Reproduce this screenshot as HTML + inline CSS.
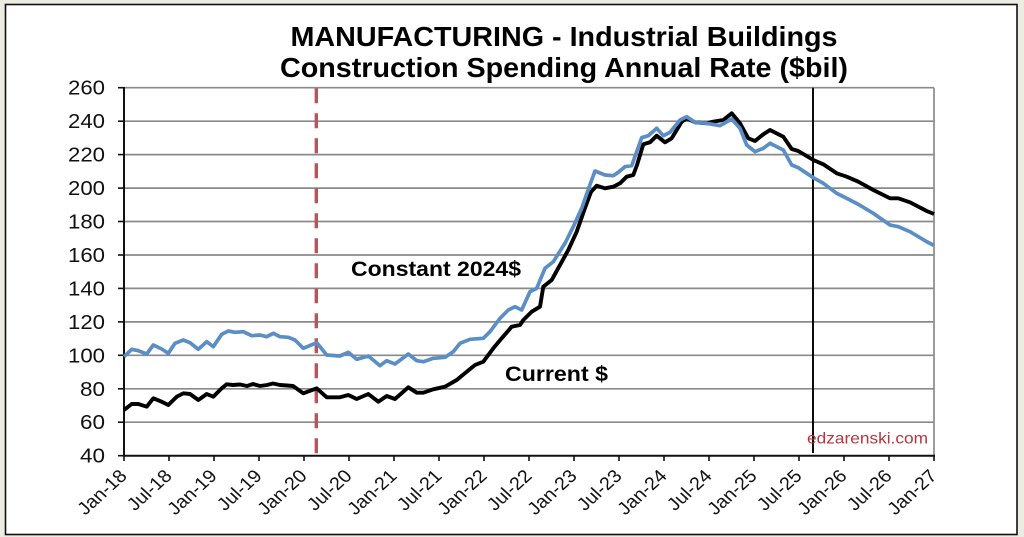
<!DOCTYPE html>
<html><head><meta charset="utf-8"><style>
html,body{margin:0;padding:0;background:#ededE3;}
svg{display:block;}
</style></head><body>
<svg width="1024" height="537" viewBox="0 0 1024 537" xmlns="http://www.w3.org/2000/svg">
<rect x="0" y="0" width="1024" height="537" fill="#ecece2"/>
<rect x="5.5" y="4.5" width="1011.5" height="530" fill="#ffffff" stroke="#111" stroke-width="1.6"/>
<g font-family="Liberation Sans, Arial, sans-serif" font-weight="bold" font-size="28" fill="#000" text-anchor="middle">
<text x="564" y="46" textLength="547" lengthAdjust="spacingAndGlyphs">MANUFACTURING - Industrial Buildings</text>
<text x="564" y="77" textLength="568" lengthAdjust="spacingAndGlyphs">Construction Spending Annual Rate ($bil)</text>
</g>
<!-- gridlines -->
<g stroke="#8a8a8a" stroke-width="1.7">
<line x1="124" y1="87.7" x2="934" y2="87.7"/>
<line x1="124" y1="121.2" x2="934" y2="121.2"/>
<line x1="124" y1="154.6" x2="934" y2="154.6"/>
<line x1="124" y1="188.1" x2="934" y2="188.1"/>
<line x1="124" y1="221.5" x2="934" y2="221.5"/>
<line x1="124" y1="255" x2="934" y2="255"/>
<line x1="124" y1="288.4" x2="934" y2="288.4"/>
<line x1="124" y1="321.9" x2="934" y2="321.9"/>
<line x1="124" y1="355.3" x2="934" y2="355.3"/>
<line x1="124" y1="388.8" x2="934" y2="388.8"/>
<line x1="124" y1="422.2" x2="934" y2="422.2"/>
<line x1="934" y1="87.7" x2="934" y2="455.7"/>
</g>
<!-- y ticks -->
<g stroke="#111" stroke-width="1.6">
<line x1="118" y1="87.7" x2="124" y2="87.7"/>
<line x1="118" y1="121.2" x2="124" y2="121.2"/>
<line x1="118" y1="154.6" x2="124" y2="154.6"/>
<line x1="118" y1="188.1" x2="124" y2="188.1"/>
<line x1="118" y1="221.5" x2="124" y2="221.5"/>
<line x1="118" y1="255" x2="124" y2="255"/>
<line x1="118" y1="288.4" x2="124" y2="288.4"/>
<line x1="118" y1="321.9" x2="124" y2="321.9"/>
<line x1="118" y1="355.3" x2="124" y2="355.3"/>
<line x1="118" y1="388.8" x2="124" y2="388.8"/>
<line x1="118" y1="422.2" x2="124" y2="422.2"/>
<line x1="118" y1="455.7" x2="124" y2="455.7"/>
</g>
<!-- x ticks -->
<g stroke="#111" stroke-width="1.6">
<line x1="124" y1="455.7" x2="124" y2="461"/>
<line x1="169" y1="455.7" x2="169" y2="461"/>
<line x1="214" y1="455.7" x2="214" y2="461"/>
<line x1="259" y1="455.7" x2="259" y2="461"/>
<line x1="304" y1="455.7" x2="304" y2="461"/>
<line x1="349" y1="455.7" x2="349" y2="461"/>
<line x1="394" y1="455.7" x2="394" y2="461"/>
<line x1="439" y1="455.7" x2="439" y2="461"/>
<line x1="484" y1="455.7" x2="484" y2="461"/>
<line x1="529" y1="455.7" x2="529" y2="461"/>
<line x1="574" y1="455.7" x2="574" y2="461"/>
<line x1="619" y1="455.7" x2="619" y2="461"/>
<line x1="664" y1="455.7" x2="664" y2="461"/>
<line x1="709" y1="455.7" x2="709" y2="461"/>
<line x1="754" y1="455.7" x2="754" y2="461"/>
<line x1="799" y1="455.7" x2="799" y2="461"/>
<line x1="844" y1="455.7" x2="844" y2="461"/>
<line x1="889" y1="455.7" x2="889" y2="461"/>
<line x1="934" y1="455.7" x2="934" y2="461"/>
</g>
<!-- axes -->
<line x1="124" y1="87" x2="124" y2="456.5" stroke="#111" stroke-width="2"/>
<line x1="123" y1="455.7" x2="935" y2="455.7" stroke="#111" stroke-width="2"/>
<!-- y labels -->
<g font-family="Liberation Sans, Arial, sans-serif" font-size="20" fill="#111" text-anchor="end">
<text x="105" y="94.7" textLength="37" lengthAdjust="spacingAndGlyphs">260</text>
<text x="105" y="128.2" textLength="37" lengthAdjust="spacingAndGlyphs">240</text>
<text x="105" y="161.6" textLength="37" lengthAdjust="spacingAndGlyphs">220</text>
<text x="105" y="195.1" textLength="37" lengthAdjust="spacingAndGlyphs">200</text>
<text x="105" y="228.5" textLength="37" lengthAdjust="spacingAndGlyphs">180</text>
<text x="105" y="262" textLength="37" lengthAdjust="spacingAndGlyphs">160</text>
<text x="105" y="295.4" textLength="37" lengthAdjust="spacingAndGlyphs">140</text>
<text x="105" y="328.9" textLength="37" lengthAdjust="spacingAndGlyphs">120</text>
<text x="105" y="362.3" textLength="37" lengthAdjust="spacingAndGlyphs">100</text>
<text x="105" y="395.8" textLength="25" lengthAdjust="spacingAndGlyphs">80</text>
<text x="105" y="429.2" textLength="25" lengthAdjust="spacingAndGlyphs">60</text>
<text x="105" y="462.7" textLength="25" lengthAdjust="spacingAndGlyphs">40</text>
</g>
<!-- x labels -->
<g font-family="Liberation Sans, Arial, sans-serif" font-size="18" fill="#111" text-anchor="end">
<g transform="translate(128,477) scale(1.1,1) rotate(-45)"><text x="0" y="0">Jan-18</text></g>
<g transform="translate(173,477) scale(1.1,1) rotate(-45)"><text x="0" y="0">Jul-18</text></g>
<g transform="translate(218,477) scale(1.1,1) rotate(-45)"><text x="0" y="0">Jan-19</text></g>
<g transform="translate(263,477) scale(1.1,1) rotate(-45)"><text x="0" y="0">Jul-19</text></g>
<g transform="translate(308,477) scale(1.1,1) rotate(-45)"><text x="0" y="0">Jan-20</text></g>
<g transform="translate(353,477) scale(1.1,1) rotate(-45)"><text x="0" y="0">Jul-20</text></g>
<g transform="translate(398,477) scale(1.1,1) rotate(-45)"><text x="0" y="0">Jan-21</text></g>
<g transform="translate(443,477) scale(1.1,1) rotate(-45)"><text x="0" y="0">Jul-21</text></g>
<g transform="translate(488,477) scale(1.1,1) rotate(-45)"><text x="0" y="0">Jan-22</text></g>
<g transform="translate(533,477) scale(1.1,1) rotate(-45)"><text x="0" y="0">Jul-22</text></g>
<g transform="translate(578,477) scale(1.1,1) rotate(-45)"><text x="0" y="0">Jan-23</text></g>
<g transform="translate(623,477) scale(1.1,1) rotate(-45)"><text x="0" y="0">Jul-23</text></g>
<g transform="translate(668,477) scale(1.1,1) rotate(-45)"><text x="0" y="0">Jan-24</text></g>
<g transform="translate(713,477) scale(1.1,1) rotate(-45)"><text x="0" y="0">Jul-24</text></g>
<g transform="translate(758,477) scale(1.1,1) rotate(-45)"><text x="0" y="0">Jan-25</text></g>
<g transform="translate(803,477) scale(1.1,1) rotate(-45)"><text x="0" y="0">Jul-25</text></g>
<g transform="translate(848,477) scale(1.1,1) rotate(-45)"><text x="0" y="0">Jan-26</text></g>
<g transform="translate(893,477) scale(1.1,1) rotate(-45)"><text x="0" y="0">Jul-26</text></g>
<g transform="translate(938,477) scale(1.1,1) rotate(-45)"><text x="0" y="0">Jan-27</text></g>
</g>
<!-- red dashed line -->
<line x1="316.3" y1="88.3" x2="316.3" y2="455" stroke="#b5565c" stroke-width="3.4" stroke-dasharray="15 10"/>
<!-- black vertical line -->
<line x1="813" y1="87.7" x2="813" y2="453" stroke="#000" stroke-width="1.9"/>
<!-- watermark -->
<text x="807" y="443.5" font-family="Liberation Sans, Arial, sans-serif" font-size="16" fill="#b8333a" textLength="121" lengthAdjust="spacingAndGlyphs">edzarenski.com</text>
<!-- series -->
<polyline fill="none" stroke="#000" stroke-width="3.9" stroke-linejoin="round" points="124,410 131.7,404 138.3,404 146.7,406.7 153.3,398.3 161.7,401.7 168.3,405 176.7,396.7 183.3,393.3 190,394 198.3,400 206.7,394 213.3,396.7 221.7,388.3 226.7,384.3 233,385 240,384.5 247,386 253,384 260,386 267,385 273,383.5 280,385 287,385.5 293,386 303.3,393.3 316.7,388.3 326.7,397.3 340,397.3 348.3,395 356.7,399 368.3,394 378.3,401.7 386.7,396 395,399 408.3,387.3 416.7,392.7 423.3,392.7 433.3,389.3 445,386.7 456.7,380 466.7,371.7 475,365 483.3,361.7 493.3,348.3 501.7,338.3 511.7,326.7 520,325 523.3,320 531.7,311.7 540,306.7 543.3,286.7 551.7,280 560,265 568.3,250 576.7,231.7 585,208 591,192 596.7,185.7 605,188.3 613.3,186.7 620,183.3 626.7,176.7 633.3,175 637,165 643.3,144.3 650,142.3 656.7,135.7 665,142.3 671.7,138.3 681.7,121.7 686.7,118.3 695,122.3 706.7,123.3 713.3,121.7 723.3,120 731.7,113.3 740,123.3 748.3,138.3 755,141 763.3,134.3 770,130 783.3,136.7 791.7,149 798.3,151 813.3,160 823.3,164.3 836.7,173.3 846.7,176.7 858.3,181.7 873.3,190 890,198.3 898.3,198.3 910,202.3 926.7,211 934,214"/>
<polyline fill="none" stroke="#5b8ec6" stroke-width="3.7" stroke-linejoin="round" points="124,356.7 131.7,349.3 138.3,350.7 146.7,354 153.3,345 161.7,349 168.3,353.3 175,343.3 183.3,340 190,342.7 198.3,349.3 206.7,341.7 213.3,346.7 221.7,334.3 228.3,331 235,332.3 243.3,331.7 251.7,335.7 260,335 266.7,336.7 273.3,333.3 280,336.7 288.3,337.3 295,340 303.3,348.3 316.7,342.7 326.7,355 340,356 348.3,352.3 356.7,359.3 368.3,356 380,365.7 386.7,360.7 395,364 408.3,354 416.7,360.7 423.3,361.7 433.3,358.3 445,357.3 453.3,351.7 460,343.3 470,339.3 483.3,338.3 490,331.7 500,318.3 508.3,310 515,306.7 521.7,310 530,291.7 536.7,288.3 545,268.3 553.3,261.7 565,243.3 573.3,226.7 581.7,208.3 588.3,189.3 595,171 605,175 613.3,175.7 618.3,172.3 625,166.7 631.7,165.7 641.7,137.7 648.3,135.7 656.7,128.3 663.3,135.7 670,132.3 680,120 686.7,116.7 695,122.3 706.7,123.3 720,125.7 731.7,119 740,128.3 746.7,145 755,151.7 763.3,148.3 770,143.3 783.3,150 791.7,165 798.3,167.7 813.3,177.7 823.3,183.3 836.7,193.3 846.7,198.3 858.3,204.3 873.3,213.3 890,225 898.3,226.7 910,231.7 926.7,241.7 934,245.5"/>
<!-- series labels -->
<g font-family="Liberation Sans, Arial, sans-serif" font-weight="bold" font-size="21" fill="#000">
<text x="351" y="276" textLength="170" lengthAdjust="spacingAndGlyphs">Constant 2024$</text>
<text x="505" y="381" textLength="103" lengthAdjust="spacingAndGlyphs">Current $</text>
</g>
</svg>
</body></html>
